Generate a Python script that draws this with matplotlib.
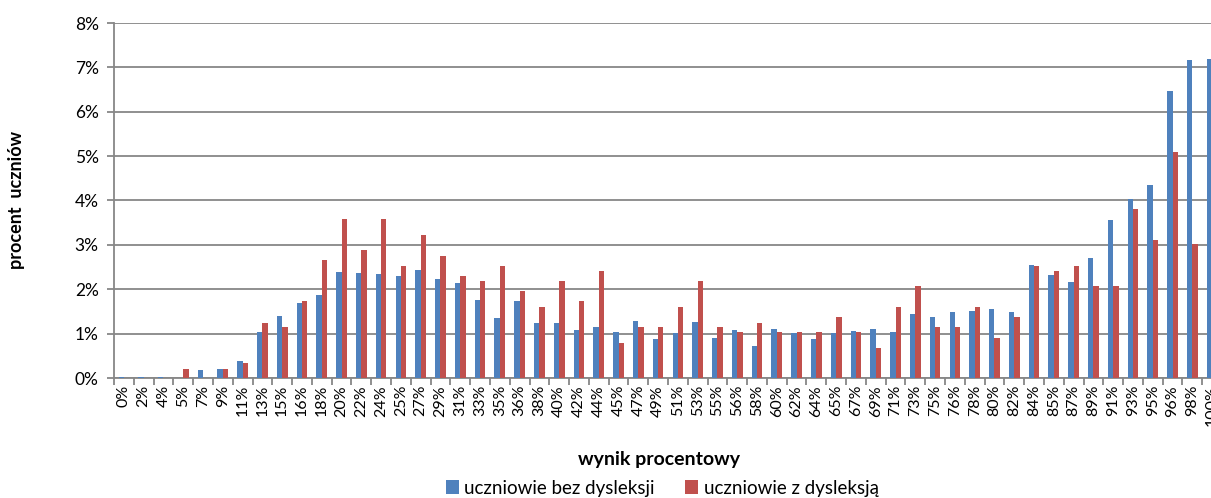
import numpy as np
import matplotlib.pyplot as plt

plt.rcParams['font.family'] = ['Lato', 'DejaVu Sans']

# wynik procentowy (kategorie osi X)
labels = ['0%', '2%', '4%', '5%', '7%', '9%', '11%', '13%', '15%', '16%',
          '18%', '20%', '22%', '24%', '25%', '27%', '29%', '31%', '33%', '35%',
          '36%', '38%', '40%', '42%', '44%', '45%', '47%', '49%', '51%', '53%',
          '55%', '56%', '58%', '60%', '62%', '64%', '65%', '67%', '69%', '71%',
          '73%', '75%', '76%', '78%', '80%', '82%', '84%', '85%', '87%', '89%',
          '91%', '93%', '95%', '96%', '98%', '100%']

# procent uczniow bez dysleksji
bez_dysleksji = [0.02, 0.02, 0.02, 0.00, 0.17, 0.21, 0.38, 1.03, 1.39, 1.68,
                 1.86, 2.39, 2.37, 2.34, 2.29, 2.43, 2.23, 2.13, 1.75, 1.36,
                 1.73, 1.23, 1.25, 1.09, 1.16, 1.04, 1.29, 0.89, 1.01, 1.27,
                 0.91, 1.09, 0.71, 1.11, 1.01, 0.89, 1.01, 1.07, 1.10, 1.03,
                 1.44, 1.37, 1.48, 1.51, 1.55, 1.48, 2.55, 2.31, 2.16, 2.71,
                 3.55, 4.03, 4.34, 6.46, 7.16, 7.18]

# procent uczniow z dysleksja
z_dysleksja = [0.00, 0.00, 0.00, 0.21, 0.00, 0.21, 0.33, 1.25, 1.14, 1.73,
               2.65, 3.58, 2.89, 3.58, 2.53, 3.23, 2.76, 2.30, 2.19, 2.53,
               1.95, 1.61, 2.19, 1.73, 2.42, 0.80, 1.14, 1.14, 1.61, 2.19,
               1.14, 1.03, 1.25, 1.03, 1.03, 1.03, 1.37, 1.03, 0.68, 1.61,
               2.07, 1.14, 1.14, 1.61, 0.91, 1.37, 2.53, 2.42, 2.53, 2.07,
               2.07, 3.81, 3.12, 5.09, 3.01, 5.50]

blue = '#4F81BD'
red = '#C0504D'
grid_c = '#878787'

fig = plt.figure(figsize=(12.11, 4.98), dpi=100)
ax = fig.add_axes([114 / 1211, 120 / 498, 1108 / 1211, 355 / 498])

x = np.arange(len(labels))
w = 0.27
ax.bar(x - w / 2, bez_dysleksji, w, color=blue, label='uczniowie bez dysleksji', zorder=3)
ax.bar(x + w / 2, z_dysleksja, w, color=red, label='uczniowie z dysleksją', zorder=3)

ax.set_xlim(-0.5, len(labels) - 0.5)
ax.set_ylim(0, 8)
ax.set_yticks(range(0, 9))
ax.set_yticklabels(['{}%'.format(i) for i in range(0, 9)], fontsize=12.5)
ax.yaxis.grid(True, color=grid_c, lw=1.3, zorder=0)

ax.set_xticks(x)
ax.set_xticklabels(labels, rotation=90, fontsize=11.5)
ax.set_xticks(np.arange(-0.5, len(labels), 1), minor=True)
ax.tick_params(axis='x', which='major', length=0, pad=5)
ax.tick_params(axis='x', which='minor', length=5, color=grid_c, width=1.3)
ax.tick_params(axis='y', length=5, color=grid_c, width=1.3, pad=6)

for s in ['top', 'right']:
    ax.spines[s].set_visible(False)
for s in ['left', 'bottom']:
    ax.spines[s].set_color(grid_c)
    ax.spines[s].set_linewidth(1.3)

fig.text(659 / 1211, 1 - 459 / 498, 'wynik procentowy', ha='center', va='center',
         fontsize=14, fontweight='bold')
fig.text(17 / 1211, 1 - 200 / 498, 'procent  uczniów', ha='center', va='center',
         rotation=90, fontsize=13, fontweight='bold')

fig.legend(loc='center', bbox_to_anchor=(662 / 1211, 1 - 488 / 498), ncol=2,
           frameon=False, fontsize=13.5, handlelength=0.7, handleheight=0.7,
           handletextpad=0.3, columnspacing=1.6)

fig.savefig('out.png', dpi=100)
